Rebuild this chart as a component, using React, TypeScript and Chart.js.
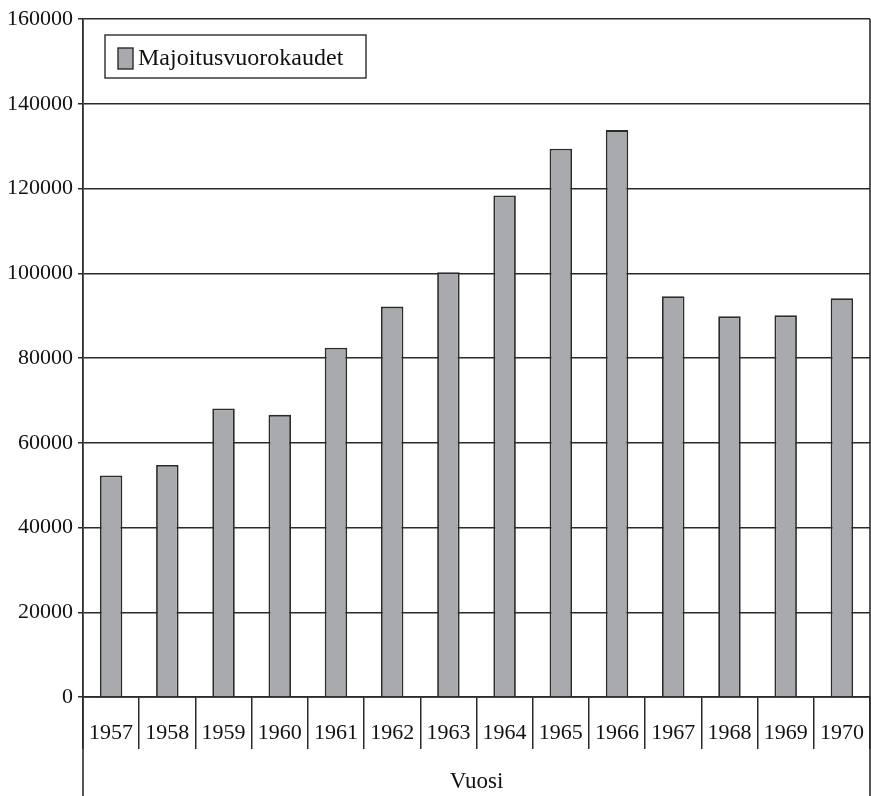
import React, { useEffect, useRef } from "react";
import { Chart, registerables } from "chart.js";

Chart.register(...registerables);

const years = ["1957", "1958", "1959", "1960", "1961", "1962", "1963", "1964", "1965", "1966", "1967", "1968", "1969", "1970"];
const nights = [52300, 54760, 68090, 66580, 82440, 92130, 100240, 118340, 129390, 133780, 94560, 89830, 90070, 94090];
const seriesLabel = "Majoitusvuorokaudet";
const axisTitle = "Vuosi";
const yMin = 0;
const yMax = 160000;
const yStep = 20000;

const FONT = "'Liberation Serif', 'DejaVu Serif', serif";
const BAR_FILL = "#a9aaae";
const LINE = "#2b2b2b";

const framePlugin = {
  id: "frameAndLegend",
  afterDraw(chart: any) {
    const { ctx, chartArea, height } = chart;
    ctx.save();
    ctx.strokeStyle = LINE;
    ctx.lineWidth = 1.6;
    ctx.beginPath();
    ctx.moveTo(chartArea.left, chartArea.bottom);
    ctx.lineTo(chartArea.left, height);
    ctx.stroke();
    ctx.beginPath();
    ctx.moveTo(chartArea.right, chartArea.top);
    ctx.lineTo(chartArea.right, height);
    ctx.stroke();

    const ds = chart.data.datasets[0];
    const bx = chartArea.left + 22;
    const by = chartArea.top + 16;
    ctx.lineWidth = 1.4;
    ctx.fillStyle = "#ffffff";
    ctx.fillRect(bx, by, 261, 43);
    ctx.strokeRect(bx, by, 261, 43);
    ctx.fillStyle = ds.backgroundColor;
    ctx.fillRect(bx + 13, by + 13, 15, 21);
    ctx.lineWidth = 1.4;
    ctx.strokeRect(bx + 13, by + 13, 15, 21);
    ctx.fillStyle = "#111111";
    ctx.font = `24px ${FONT}`;
    ctx.textBaseline = "middle";
    ctx.textAlign = "left";
    ctx.fillText(ds.label, bx + 33, by + 24);
    ctx.restore();
  },
};

export default function App() {
  const ref = useRef<HTMLCanvasElement | null>(null);

  useEffect(() => {
    document.body.style.margin = "0";
    const canvas = ref.current;
    if (!canvas) return;
    const chart = new Chart(canvas, {
      type: "bar",
      data: {
        labels: years,
        datasets: [
          {
            label: seriesLabel,
            data: nights,
            backgroundColor: BAR_FILL,
            borderColor: LINE,
            borderWidth: 1.8,
            barPercentage: 0.4,
            categoryPercentage: 1,
          },
        ],
      },
      options: {
        animation: false,
        responsive: false,
        maintainAspectRatio: false,
        devicePixelRatio: 1,
        layout: { padding: { top: 19, right: 1, left: 0, bottom: 0 } },
        plugins: {
          legend: { display: false },
          tooltip: { enabled: false },
        },
        scales: {
          x: {
            offset: true,
            grid: {
              offset: true,
              drawOnChartArea: false,
              drawTicks: true,
              tickLength: 52,
              color: LINE,
              lineWidth: 1.5,
            },
            border: { display: true, color: LINE, width: 1.8 },
            ticks: {
              color: "#111111",
              font: { family: FONT, size: 22 },
              padding: -29,
              maxRotation: 0,
              autoSkip: false,
            },
            title: {
              display: true,
              text: axisTitle,
              color: "#111111",
              font: { family: FONT, size: 23 },
              padding: { top: 0, bottom: 0 },
            },
            afterFit(scale: any) {
              scale.height = 99;
            },
          },
          y: {
            min: yMin,
            max: yMax,
            grid: {
              color: LINE,
              lineWidth: 1.5,
              drawTicks: true,
              tickLength: 5,
            },
            border: { display: true, color: LINE, width: 1.8 },
            ticks: {
              stepSize: yStep,
              color: "#111111",
              font: { family: FONT, size: 22 },
              padding: 5,
              callback: (v: any) => String(v),
            },
            afterFit(scale: any) {
              scale.width = 83;
            },
          },
        },
      },
      plugins: [framePlugin],
    });
    return () => chart.destroy();
  }, []);

  return (
    <div style={{ position: "fixed", left: 0, top: 0, width: 871, height: 796, background: "#fff" }}>
      <canvas ref={ref} width={871} height={796} style={{ width: 871, height: 796, display: "block" }} />
    </div>
  );
}
